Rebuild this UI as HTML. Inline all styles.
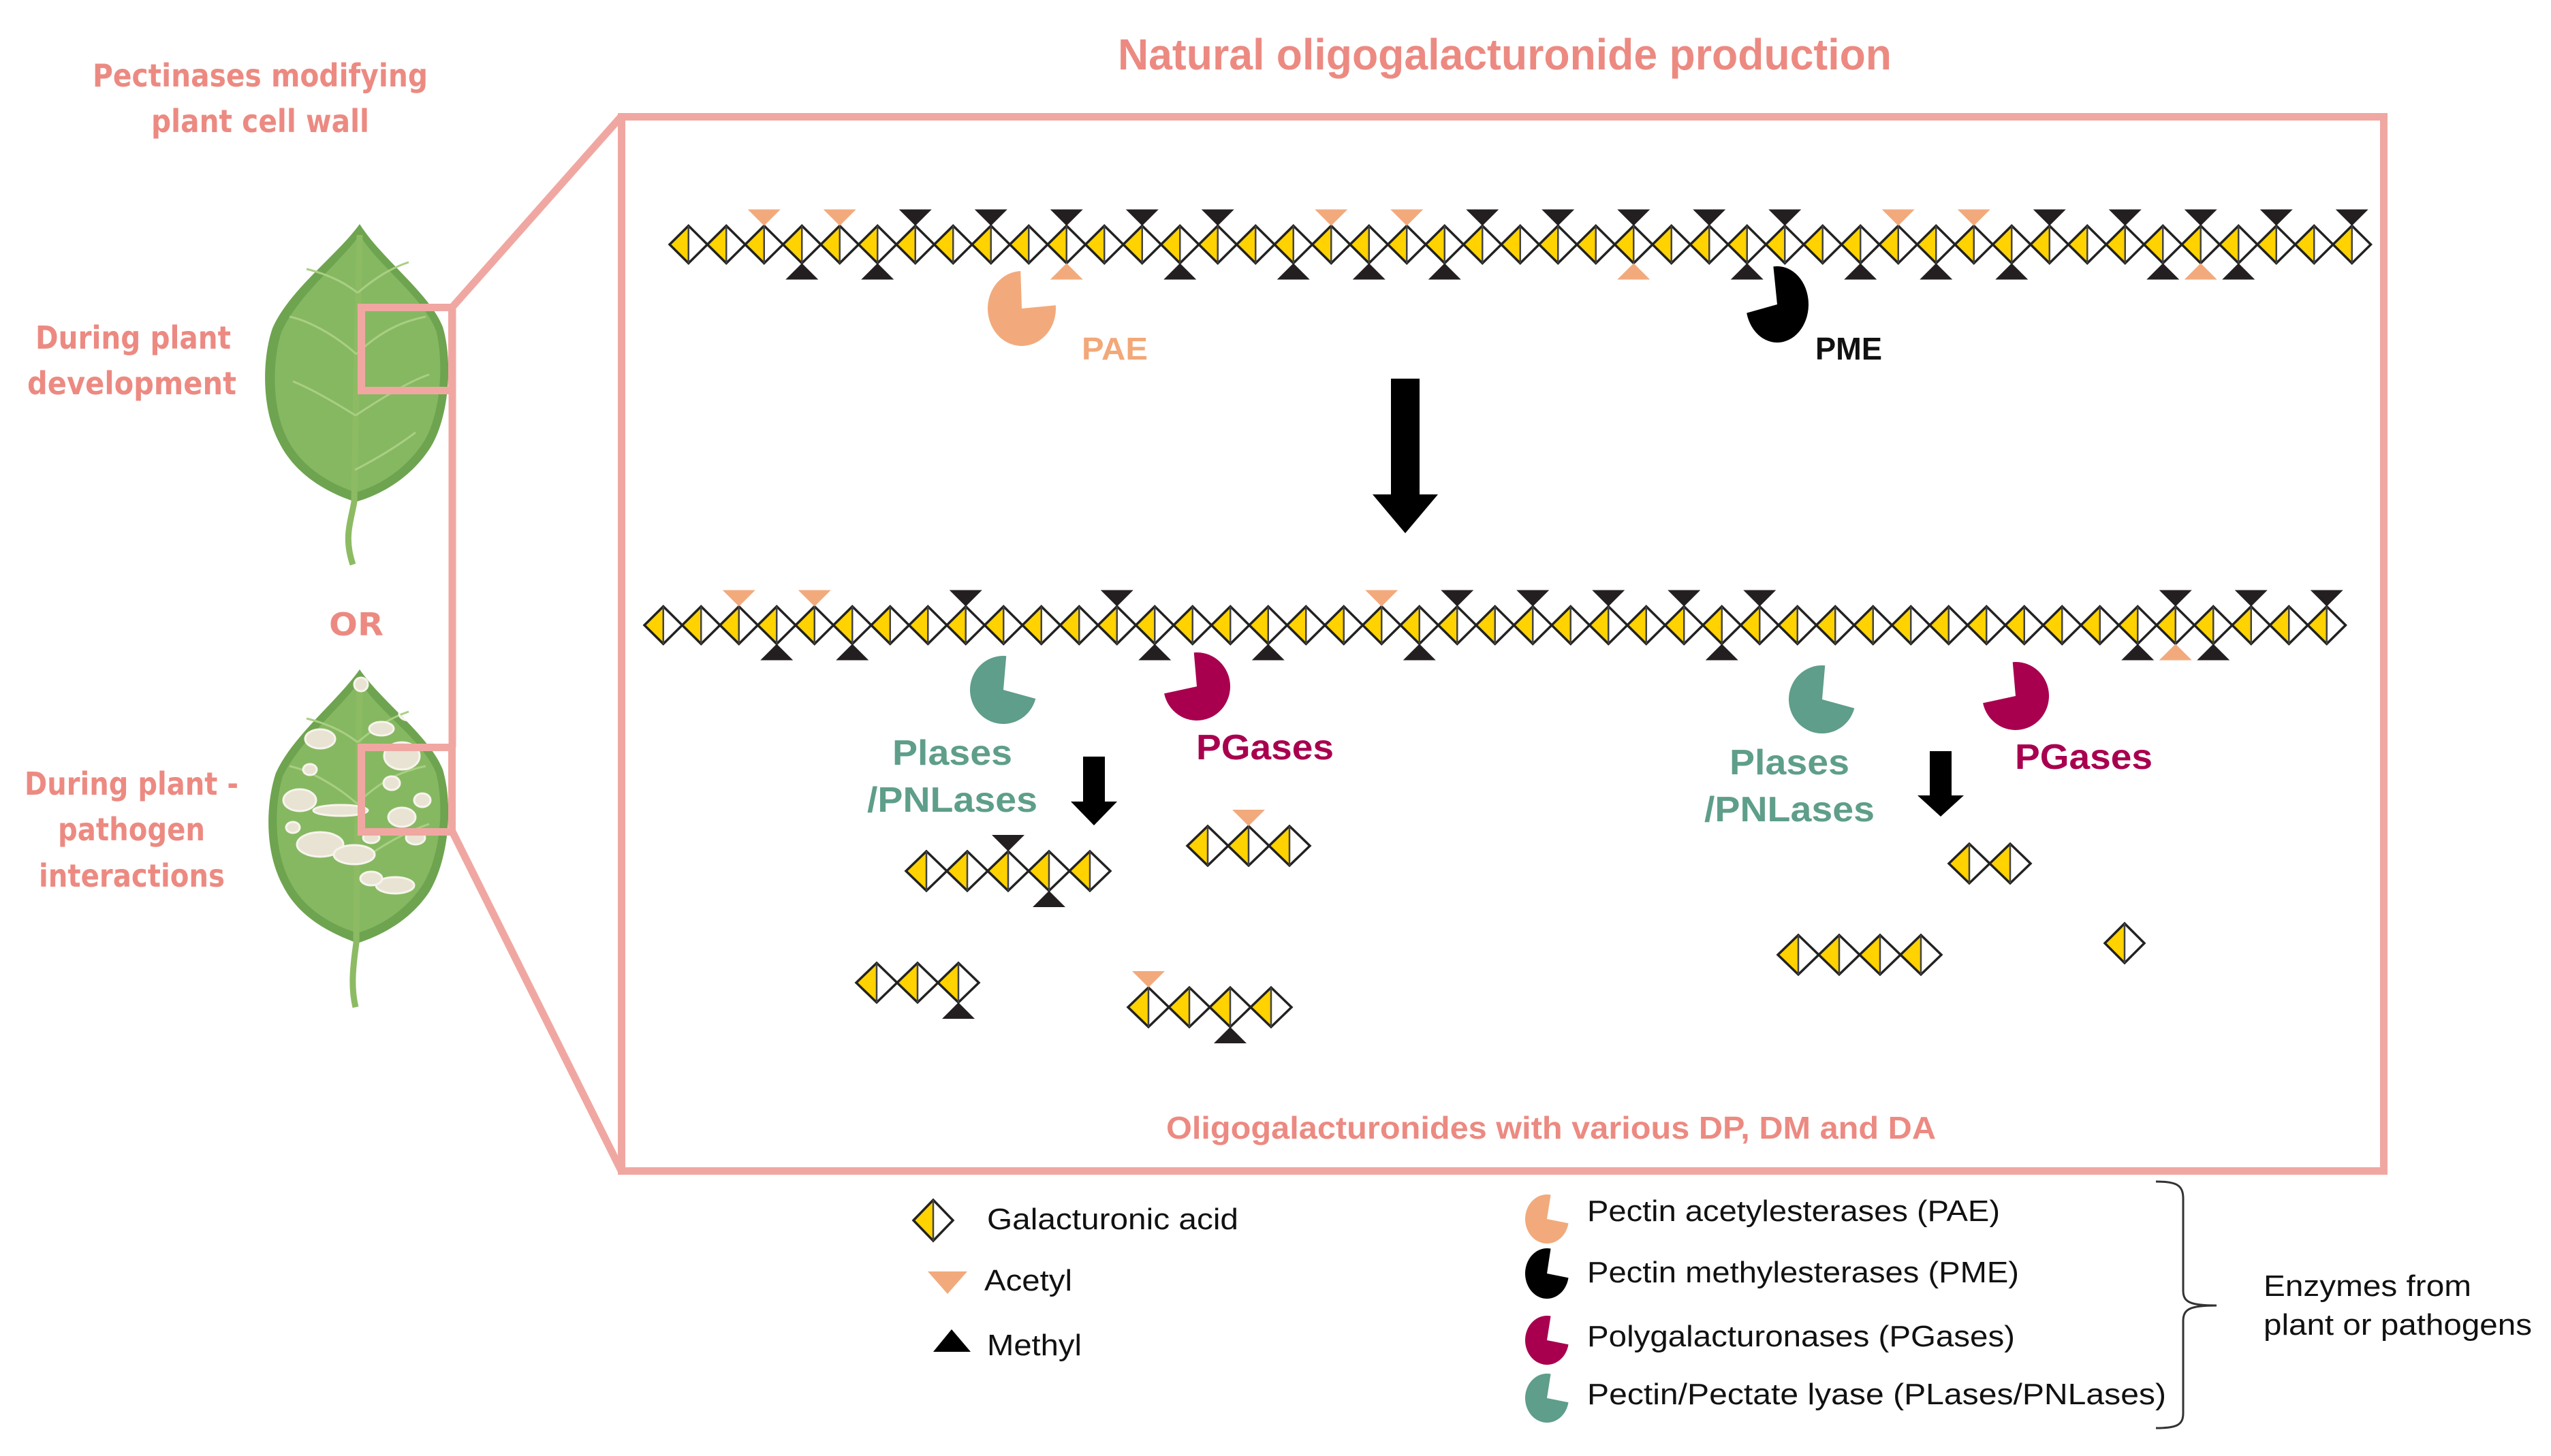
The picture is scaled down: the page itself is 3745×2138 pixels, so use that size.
<!DOCTYPE html>
<html><head><meta charset="utf-8"><style>
html,body{margin:0;padding:0;background:#fff;}
svg{display:block;}
</style></head><body>
<svg id="s" xmlns="http://www.w3.org/2000/svg" width="3745" height="2138" viewBox="0 0 3745 2138">
<defs>
<clipPath id="leaf2clip"><path d="M528,983 C560,1030 630,1080 650,1130 C665,1180 660,1260 630,1310 C600,1355 555,1375 525,1385 C490,1372 440,1350 415,1300 C388,1250 390,1180 405,1135 C430,1080 495,1030 528,983 Z"/></clipPath>
</defs>
<rect width="3745" height="2138" fill="#fff"/>
<!-- Leaf 1 -->
<g>
<path d="M528,329 C560,380 630,430 650,480 C665,530 660,615 630,660 C600,705 555,728 522,737 C485,725 435,700 410,650 C383,600 385,525 400,482 C425,425 495,375 528,329 Z" fill="#6ea44f"/>
<path d="M528,345 C555,390 620,435 640,485 C652,530 648,610 620,652 C592,693 552,715 522,723 C490,712 445,690 422,645 C398,598 400,528 413,488 C438,432 500,385 528,345 Z" fill="#86b862"/>
<path d="M528,345 C526,450 522,600 520,737 C514,770 505,790 518,829" fill="none" stroke="#8dbb63" stroke-width="9"/>
<g fill="none" stroke="#a9cf82" stroke-width="3">
<path d="M525,430 C500,410 470,400 450,395"/><path d="M525,430 C560,400 585,390 600,385"/>
<path d="M523,520 C490,490 450,470 425,465"/><path d="M523,520 C565,480 600,470 625,465"/>
<path d="M522,610 C490,590 455,570 430,560"/><path d="M522,610 C560,585 600,560 630,550"/>
<path d="M521,690 C560,670 590,650 610,635"/>
</g>
</g>
<!-- Leaf 2 -->
<g>
<path d="M528,983 C560,1030 630,1080 650,1130 C665,1180 660,1260 630,1310 C600,1355 555,1375 525,1385 C490,1372 440,1350 415,1300 C388,1250 390,1180 405,1135 C430,1080 495,1030 528,983 Z" fill="#6ea44f"/>
<path d="M528,1000 C555,1045 620,1085 640,1135 C652,1180 648,1255 620,1300 C592,1342 552,1362 525,1370 C492,1360 448,1338 426,1295 C402,1250 402,1185 415,1140 C440,1088 500,1040 528,1000 Z" fill="#86b862"/>
<path d="M528,1000 C526,1100 524,1250 523,1385 C518,1420 515,1450 522,1479" fill="none" stroke="#8dbb63" stroke-width="9"/>
<g fill="none" stroke="#a9cf82" stroke-width="3">
<path d="M525,1090 C500,1070 470,1060 450,1055"/><path d="M525,1090 C560,1060 585,1050 600,1045"/>
<path d="M524,1180 C490,1150 450,1130 425,1125"/><path d="M524,1180 C565,1140 600,1130 625,1125"/>
<path d="M523,1270 C560,1240 600,1220 630,1210"/>
</g>
<g id="spots" clip-path="url(#leaf2clip)" fill="#e9e3d3" stroke="#f7f4ec" stroke-width="3"></g>
</g>
<!-- pink highlight squares & lines -->
<g fill="none" stroke="#f0a7a2" stroke-width="11">
<rect x="530.5" y="451.5" width="133" height="122"/>
<rect x="530.5" y="1097.5" width="133" height="124"/>
<line x1="664" y1="446" x2="664" y2="1097"/>
<line x1="664" y1="451" x2="912" y2="171"/>
<line x1="664" y1="1221" x2="912" y2="1719"/>
<rect x="912.5" y="171.5" width="2587" height="1548"/>
</g>
<!-- texts -->
<g font-family="'DejaVu Sans','Liberation Sans',sans-serif" font-weight="bold" fill="#ec8a82" font-size="46">
<text x="382" y="127" text-anchor="middle" textLength="492" lengthAdjust="spacingAndGlyphs">Pectinases modifying</text>
<text x="382" y="194" text-anchor="middle" textLength="320" lengthAdjust="spacingAndGlyphs">plant cell wall</text>
<text x="52" y="512" textLength="287" lengthAdjust="spacingAndGlyphs">During plant</text>
<text x="40" y="579" textLength="307" lengthAdjust="spacingAndGlyphs">development</text>
<text x="523" y="933" text-anchor="middle" textLength="80" lengthAdjust="spacingAndGlyphs">OR</text>
<text x="36" y="1167" textLength="314" lengthAdjust="spacingAndGlyphs">During plant -</text>
<text x="85" y="1234" textLength="216" lengthAdjust="spacingAndGlyphs">pathogen</text>
<text x="57" y="1302" textLength="273" lengthAdjust="spacingAndGlyphs">interactions</text>
</g>
<g font-family="'Liberation Sans',sans-serif" font-weight="bold" fill="#ec8a82">
<text x="1641" y="102" font-size="64" textLength="1136" lengthAdjust="spacingAndGlyphs">Natural oligogalacturonide production</text>
<text x="1712" y="1672" font-size="46" textLength="1130" lengthAdjust="spacingAndGlyphs">Oligogalacturonides with various DP, DM and DA</text>
</g>
<g font-family="'Liberation Sans',sans-serif" font-weight="bold" font-size="46">
<text x="1588" y="528" fill="#f2a878" textLength="97" lengthAdjust="spacingAndGlyphs">PAE</text>
<text x="2665" y="528" fill="#111" textLength="98" lengthAdjust="spacingAndGlyphs">PME</text>
<g font-size="52">
<text x="1398" y="1123" fill="#5e9e8a" text-anchor="middle" textLength="176" lengthAdjust="spacingAndGlyphs">Plases</text>
<text x="1398" y="1192" fill="#5e9e8a" text-anchor="middle" textLength="250" lengthAdjust="spacingAndGlyphs">/PNLases</text>
<text x="1857" y="1115" fill="#a8004f" text-anchor="middle" textLength="202" lengthAdjust="spacingAndGlyphs">PGases</text>
<text x="2627" y="1137" fill="#5e9e8a" text-anchor="middle" textLength="176" lengthAdjust="spacingAndGlyphs">Plases</text>
<text x="2627" y="1206" fill="#5e9e8a" text-anchor="middle" textLength="250" lengthAdjust="spacingAndGlyphs">/PNLases</text>
<text x="3059" y="1129" fill="#a8004f" text-anchor="middle" textLength="202" lengthAdjust="spacingAndGlyphs">PGases</text>
</g>
</g>
<!-- arrows -->
<g fill="#000">
<polygon points="2042,556 2084,556 2084,726 2111,726 2063,783 2015,726 2042,726"/>
<polygon points="1590,1111 1622,1111 1622,1177 1640,1177 1606,1212 1572,1177 1590,1177"/>
<polygon points="2833,1103 2865,1103 2865,1168 2883,1168 2849,1199 2815,1168 2833,1168"/>
</g>
<!-- legend -->
<g font-family="'Liberation Sans',sans-serif" font-size="44" fill="#111">
<text x="1449" y="1805" textLength="369" lengthAdjust="spacingAndGlyphs">Galacturonic acid</text>
<text x="1445" y="1895" textLength="129" lengthAdjust="spacingAndGlyphs">Acetyl</text>
<text x="1449" y="1990" textLength="139" lengthAdjust="spacingAndGlyphs">Methyl</text>
<text x="2330" y="1793" textLength="606" lengthAdjust="spacingAndGlyphs">Pectin acetylesterases (PAE)</text>
<text x="2330" y="1883" textLength="634" lengthAdjust="spacingAndGlyphs">Pectin methylesterases (PME)</text>
<text x="2330" y="1977" textLength="628" lengthAdjust="spacingAndGlyphs">Polygalacturonases (PGases)</text>
<text x="2330" y="2062" textLength="850" lengthAdjust="spacingAndGlyphs">Pectin/Pectate lyase (PLases/PNLases)</text>
<text x="3323" y="1903" textLength="305" lengthAdjust="spacingAndGlyphs">Enzymes from</text>
<text x="3323" y="1960" textLength="394" lengthAdjust="spacingAndGlyphs">plant or pathogens</text>
</g>
<path d="M3165,1735 C3195,1735 3205,1740 3205,1760 L3205,1895 C3205,1912 3215,1917 3254,1917 C3215,1917 3205,1922 3205,1940 L3205,2075 C3205,2093 3195,2097 3165,2097" fill="none" stroke="#333" stroke-width="3"/>
<g id="dyn"></g>
</svg>
<script>
(function(){
var NS="http://www.w3.org/2000/svg",g=document.getElementById('dyn');
function el(t,a){var e=document.createElementNS(NS,t);for(var k in a)e.setAttribute(k,a[k]);g.appendChild(e);return e;}
var Y="#ffd200",AC="#f2aa7c",ME="#231f20";
function dia(cx,cy,hw,hh){
 el('polygon',{points:(cx-hw)+','+cy+' '+cx+','+(cy-hh)+' '+cx+','+(cy+hh),fill:Y});
 el('polygon',{points:(cx-hw)+','+cy+' '+cx+','+(cy-hh)+' '+(cx+hw)+','+cy+' '+cx+','+(cy+hh),fill:'none',stroke:'#222','stroke-width':3.5,'stroke-linejoin':'miter'});
 el('line',{x1:cx,y1:cy-hh,x2:cx,y2:cy+hh,stroke:'#444','stroke-width':2.5});
}
function triTop(cx,ty,c,w,h){el('polygon',{points:(cx-w/2)+','+(ty-h)+' '+(cx+w/2)+','+(ty-h)+' '+cx+','+ty,fill:c});}
function triBot(cx,by,c,w,h){el('polygon',{points:(cx-w/2)+','+(by+h)+' '+(cx+w/2)+','+(by+h)+' '+cx+','+by,fill:c});}
function chain(x0,cy,n,pitch,hh,top,bot){
 var hw=pitch/2;
 for(var i=0;i<n;i++)dia(x0+hw+pitch*i,cy,hw,hh);
 for(var k in top)triTop(x0+hw+pitch*k,cy-hh,top[k]=='a'?AC:ME,48,24);
 for(var k in bot)triBot(x0+hw+pitch*k,cy+hh,bot[k]=='a'?AC:ME,48,24);
}
function m(s){var o={};s.split(' ').forEach(function(t){if(!t)return;var c=t[t.length-1];o[parseInt(t)]=c;});return o;}
chain(983,359,45,55.5,27.5,m('2a 4a 6m 8m 10m 12m 14m 17a 19a 21m 23m 25m 27m 29m 32a 34a 36m 38m 40m 42m 44m'),m('3m 5m 10a 13m 16m 18m 20m 25a 28m 31m 33m 35m 39m 40a 41m'));
chain(946,918,45,55.5,27.5,m('2a 4a 8m 12m 19a 21m 23m 25m 27m 29m 40m 42m 44m'),m('3m 5m 13m 16m 20m 28m 39m 40a 41m'));
chain(1330,1279,5,60,29,m('2m'),m('3m'));
chain(1743,1242,3,60,29,m('1a'),{});
chain(1257,1443,3,60,29,{},m('2m'));
chain(1656,1479,4,60,29,m('0a'),m('2m'));
chain(2861,1268,2,60,29,{},{});
chain(2610,1402,4,60,29,{},{});
chain(3090,1385,1,58,29,{},{});
function pac(cx,cy,rx,ry,a1,a2,c){
 var r=Math.PI/180,p1=[cx+rx*Math.cos(a1*r),cy+ry*Math.sin(a1*r)],p2=[cx+rx*Math.cos(a2*r),cy+ry*Math.sin(a2*r)];
 el('path',{d:'M'+cx+','+cy+' L'+p2[0]+','+p2[1]+' A'+rx+' '+ry+' 0 1 1 '+p1[0]+','+p1[1]+' Z',fill:c});
}
pac(1500,453,50,55,-92,-5,AC);
pac(2609,447,46,56,167,263,'#000');
pac(1473,1013,49,50,-85,15,'#5e9e8a');
pac(1757,1008,49,50,168,265,'#a8004f');
pac(2675,1027,49,50,-85,15,'#5e9e8a');
pac(2959,1022,49,50,168,265,'#a8004f');
// legend icons
pac(2271,1790,32,36,-80,10,AC);
pac(2271,1870,32,37,-80,10,'#000');
pac(2271,1968,32,36,-80,10,'#a8004f');
pac(2271,2053,32,36,-80,10,'#5e9e8a');
dia(1370,1792,29,30);
el('polygon',{points:'1362,1867 1420,1867 1391,1900',fill:AC});
el('polygon',{points:'1397,1952 1370,1985 1425,1985',fill:'#000'});
// spots on leaf 2
var sp=document.getElementById('spots');
var S=[[470,1085,22,14],[600,1048,14,10],[560,1070,18,10],[590,1110,26,20],[455,1130,10,8],[440,1175,24,16],[500,1190,40,8],[470,1240,34,18],[520,1255,30,14],[590,1200,20,14],[620,1175,12,10],[610,1230,14,10],[580,1300,28,12],[545,1230,12,8],[530,1005,10,10],[575,1150,12,10],[430,1215,10,8],[545,1290,16,10]];
S.forEach(function(s){var e=document.createElementNS(NS,'ellipse');e.setAttribute('cx',s[0]);e.setAttribute('cy',s[1]);e.setAttribute('rx',s[2]);e.setAttribute('ry',s[3]);sp.appendChild(e);});
})();
</script>
</body></html>
